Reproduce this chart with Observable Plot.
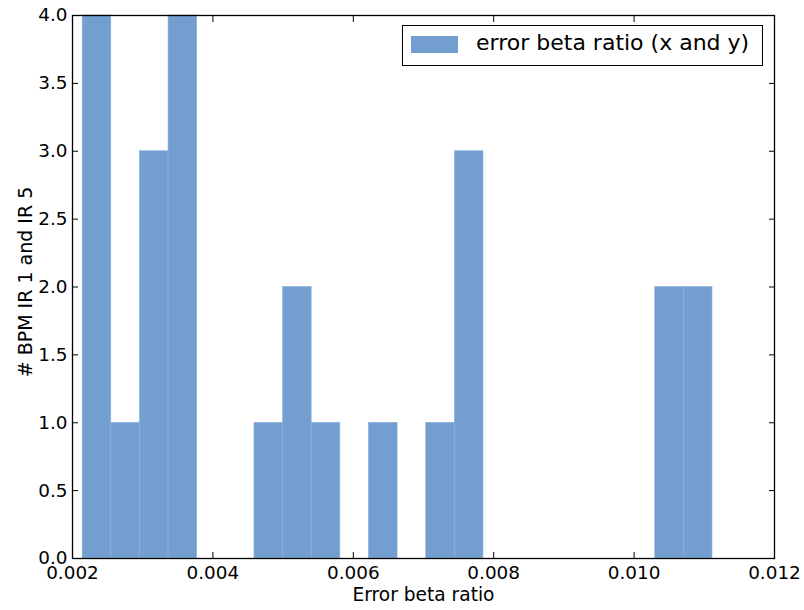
<!DOCTYPE html>
<html>
<head>
<meta charset="utf-8">
<script src="https://cdn.jsdelivr.net/npm/d3@7"></script>
<script src="https://cdn.jsdelivr.net/npm/@observablehq/plot@0.6"></script>
<style>
  body { margin: 0; background: #fff; }
  #wrap { position: relative; width: 804px; height: 610px; font-family: "DejaVu Sans", sans-serif; }
  #legend { position: absolute; left: 402px; top: 25px; width: 361px; height: 41px; border: 1.3px solid #000; background: #fff; box-sizing: border-box; }
  #legend .sw { position: absolute; left: 8px; top: 10px; width: 47px; height: 17px; background: #729fcf; }
  #legend .lb { position: absolute; left: 73px; top: 3px; font-size: 22px; line-height: 28px; color: #000; white-space: nowrap; }
</style>
</head>
<body>
<div id="wrap"></div>
<script>
const binEdges = [0.002145, 0.0025528, 0.0029606, 0.0033684, 0.0037762, 0.004184, 0.0045918, 0.0049996,
  0.0054074, 0.0058152, 0.006223, 0.0066308, 0.0070386, 0.0074464, 0.0078542, 0.008262, 0.0086698,
  0.0090776, 0.0094854, 0.0098932, 0.010301, 0.0107088, 0.0111166];
const counts = [4, 1, 3, 4, 0, 0, 1, 2, 1, 0, 1, 0, 1, 3, 0, 0, 0, 0, 0, 0, 2, 2];
const xTicks = [0.002, 0.004, 0.006, 0.008, 0.010, 0.012];
const yTicks = [0, 0.5, 1, 1.5, 2, 2.5, 3, 3.5, 4];
const seriesName = "error beta ratio (x and y)";
const xLabel = "Error beta ratio";
const yLabel = "# BPM IR 1 and IR 5";

const bins = counts.map((c, i) => ({x1: binEdges[i], x2: binEdges[i + 1], count: c}));

const chart = Plot.plot({
  width: 804,
  height: 610,
  marginLeft: 72,
  marginRight: 30,
  marginTop: 15,
  marginBottom: 52,
  style: {fontFamily: "DejaVu Sans, sans-serif", fontSize: "18.4px", color: "#000", background: "#fff"},
  x: {domain: [0.002, 0.012]},
  y: {domain: [0, 4]},
  marks: [
    Plot.rectY(bins, {x1: "x1", x2: "x2", y: "count", fill: "#729fcf", stroke: "#8db2da", strokeWidth: 0.6}),
    Plot.axisX(xTicks, {anchor: "bottom", tickSize: 0, tickPadding: 7, tickFormat: d3.format(".3f"), label: null, fontSize: 18.4}),
    Plot.axisX(xTicks, {anchor: "bottom", tickSize: -6, text: null, label: null, strokeWidth: 1}),
    Plot.axisX(xTicks, {anchor: "top", tickSize: -6, text: null, label: null, strokeWidth: 1}),
    Plot.axisY(yTicks, {anchor: "left", tickSize: 0, tickPadding: 5, tickFormat: d3.format(".1f"), label: null, fontSize: 18.4}),
    Plot.axisY(yTicks, {anchor: "left", tickSize: -6, text: null, label: null, strokeWidth: 1}),
    Plot.axisY(yTicks, {anchor: "right", tickSize: -6, text: null, label: null, strokeWidth: 1}),
    Plot.text([xLabel], {frameAnchor: "bottom", textAnchor: "middle", lineAnchor: "middle", dy: 37, text: d => d, fontSize: 18.6, fill: "#000"}),
    Plot.text([yLabel], {frameAnchor: "left", textAnchor: "middle", lineAnchor: "middle", dx: -47, dy: -5, rotate: -90, text: d => d, fontSize: 19, fill: "#000"}),
    Plot.frame({stroke: "#000", strokeWidth: 1.3})
  ]
});

const wrap = document.getElementById("wrap");
wrap.appendChild(chart);
const legend = document.createElement("div");
legend.id = "legend";
legend.innerHTML = `<div class="sw"></div><div class="lb"></div>`;
legend.querySelector(".lb").textContent = seriesName;
wrap.appendChild(legend);
</script>
</body>
</html>
